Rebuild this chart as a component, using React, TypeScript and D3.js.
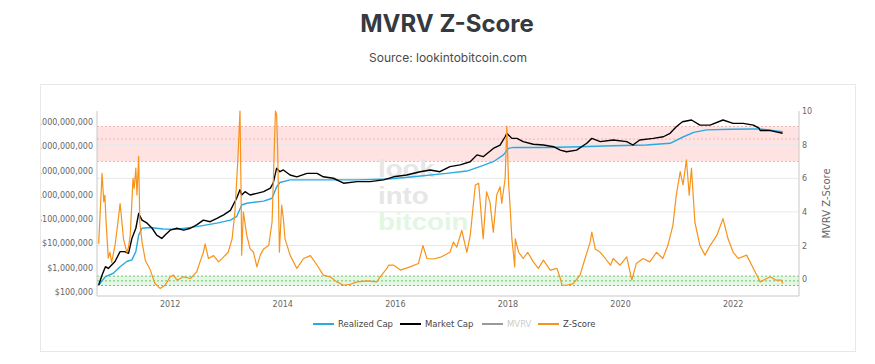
import React from 'react';
import * as d3 from 'd3';

// decimal year, value
const marketCapYears = [2010.73, 2010.79, 2010.85, 2010.9, 2010.96, 2011.02, 2011.11, 2011.19, 2011.26, 2011.32, 2011.39, 2011.44, 2011.5, 2011.59, 2011.68, 2011.76, 2011.85, 2011.91, 2012.0, 2012.12, 2012.24, 2012.36, 2012.47, 2012.59, 2012.71, 2012.83, 2012.95, 2013.07, 2013.18, 2013.24, 2013.27, 2013.33, 2013.42, 2013.54, 2013.66, 2013.78, 2013.83, 2013.89, 2013.95, 2014.01, 2014.13, 2014.25, 2014.43, 2014.61, 2014.72, 2014.9, 2015.08, 2015.32, 2015.55, 2015.79, 2015.97, 2016.2, 2016.44, 2016.62, 2016.79, 2016.97, 2017.15, 2017.33, 2017.45, 2017.56, 2017.74, 2017.86, 2017.95, 2017.98, 2018.07, 2018.16, 2018.27, 2018.45, 2018.63, 2018.81, 2018.93, 2019.04, 2019.22, 2019.4, 2019.49, 2019.64, 2019.87, 2020.11, 2020.22, 2020.34, 2020.58, 2020.76, 2020.88, 2020.99, 2021.1, 2021.26, 2021.41, 2021.59, 2021.82, 2022.0, 2022.18, 2022.36, 2022.46, 2022.48, 2022.66, 2022.88];
const marketCapValues = [1.95e5, 5.0e5, 1.1e6, 9.3e5, 1.3e6, 1.8e6, 4.6e6, 4.6e6, 3.9e6, 1.6e7, 4.2e7, 1.7e8, 9.1e7, 6.8e7, 4.2e7, 2.2e7, 1.6e7, 2.2e7, 3.5e7, 4.2e7, 3.5e7, 4.2e7, 5.8e7, 9.1e7, 7.8e7, 1.07e8, 1.5e8, 2.3e8, 7.2e8, 1.6e9, 9.8e8, 1.35e9, 9.8e8, 1.15e9, 1.35e9, 1.9e9, 3.0e9, 1.23e10, 8.9e9, 1.05e10, 6.5e9, 5.5e9, 7.6e9, 7.6e9, 5.5e9, 4.8e9, 3.0e9, 3.5e9, 3.5e9, 4.1e9, 5.5e9, 6.5e9, 8.9e9, 1.05e10, 8.9e9, 1.45e10, 1.7e10, 2.3e10, 4.4e10, 3.7e10, 8.1e10, 1.12e11, 2.45e11, 3.4e11, 2.1e11, 2.1e11, 1.55e11, 1.2e11, 1.12e11, 9.5e10, 6.9e10, 5.9e10, 6.9e10, 1.32e11, 2.1e11, 1.55e11, 1.8e11, 1.55e11, 1.12e11, 1.8e11, 2.1e11, 2.45e11, 3.4e11, 6.3e11, 1.02e12, 1.2e12, 7.4e11, 7.4e11, 1.2e12, 8.7e11, 8.7e11, 7.4e11, 5.5e11, 4.4e11, 4.4e11, 3.4e11];

const realizedCapYears = [2010.73, 2010.85, 2010.99, 2011.11, 2011.23, 2011.32, 2011.39, 2011.44, 2011.5, 2011.64, 2011.88, 2012.12, 2012.47, 2012.83, 2013.07, 2013.18, 2013.27, 2013.36, 2013.66, 2013.81, 2013.89, 2013.95, 2014.13, 2014.72, 2015.32, 2015.88, 2016.32, 2016.91, 2017.27, 2017.5, 2017.74, 2017.92, 2018.01, 2018.1, 2018.69, 2019.28, 2019.87, 2020.46, 2020.88, 2021.12, 2021.3, 2021.53, 2021.95, 2022.36, 2022.48, 2022.88];
const realizedCapValues = [1.95e5, 4.3e5, 5.9e5, 1.1e6, 1.8e6, 2.1e6, 4.6e6, 2.2e7, 4.2e7, 4.5e7, 3.9e7, 3.8e7, 4.9e7, 6.8e7, 9.1e7, 1.26e8, 3.8e8, 4.5e8, 5.5e8, 7.2e8, 2.1e9, 3.2e9, 4.1e9, 4.1e9, 4.1e9, 4.5e9, 5.5e9, 7.6e9, 9.5e9, 1.45e10, 2.3e10, 4.4e10, 8.1e10, 8.9e10, 8.9e10, 9.5e10, 1.05e11, 1.12e11, 1.32e11, 2.45e11, 3.7e11, 4.7e11, 5.0e11, 5.1e11, 5.1e11, 4.0e11];

const zScoreYears = [2010.73, 2010.79, 2010.82, 2010.84, 2010.86, 2010.9, 2010.93, 2010.96, 2011.02, 2011.08, 2011.11, 2011.14, 2011.17, 2011.23, 2011.26, 2011.29, 2011.34, 2011.36, 2011.39, 2011.41, 2011.44, 2011.46, 2011.5, 2011.56, 2011.64, 2011.73, 2011.82, 2011.91, 2012.0, 2012.06, 2012.12, 2012.24, 2012.36, 2012.47, 2012.53, 2012.59, 2012.62, 2012.68, 2012.77, 2012.86, 2012.95, 2013.03, 2013.1, 2013.15, 2013.2, 2013.24, 2013.26, 2013.27, 2013.3, 2013.36, 2013.42, 2013.48, 2013.54, 2013.6, 2013.66, 2013.75, 2013.81, 2013.87, 2013.89, 2013.91, 2013.94, 2013.98, 2014.01, 2014.04, 2014.13, 2014.25, 2014.37, 2014.49, 2014.61, 2014.72, 2014.84, 2014.96, 2015.08, 2015.2, 2015.32, 2015.5, 2015.67, 2015.73, 2015.85, 2015.88, 2015.97, 2016.09, 2016.26, 2016.41, 2016.49, 2016.56, 2016.68, 2016.82, 2016.97, 2017.03, 2017.09, 2017.18, 2017.27, 2017.33, 2017.42, 2017.48, 2017.54, 2017.56, 2017.62, 2017.68, 2017.74, 2017.8, 2017.86, 2017.89, 2017.95, 2017.98, 2018.01, 2018.04, 2018.07, 2018.1, 2018.12, 2018.13, 2018.19, 2018.27, 2018.35, 2018.45, 2018.54, 2018.63, 2018.75, 2018.87, 2018.93, 2018.96, 2019.04, 2019.16, 2019.28, 2019.37, 2019.46, 2019.49, 2019.55, 2019.64, 2019.73, 2019.82, 2019.87, 2019.99, 2020.11, 2020.2, 2020.28, 2020.4, 2020.52, 2020.64, 2020.75, 2020.84, 2020.93, 2020.99, 2021.06, 2021.11, 2021.17, 2021.22, 2021.26, 2021.32, 2021.41, 2021.5, 2021.59, 2021.71, 2021.82, 2021.91, 2022.0, 2022.09, 2022.24, 2022.36, 2022.45, 2022.48, 2022.66, 2022.76, 2022.86, 2022.88];
const zScoreValues = [2.1, 6.3, 4.6, 5.0, 3.5, 1.25, 1.6, 1.0, 2.0, 3.6, 4.5, 3.5, 2.4, 1.6, 1.9, 2.6, 6.0, 5.4, 6.6, 5.0, 7.3, 3.4, 2.2, 1.1, 0.6, -0.26, -0.55, -0.36, 0.14, 0.24, -0.06, 0.14, 0.04, 0.43, 1.03, 1.6, 2.1, 1.23, 1.4, 1.03, 1.33, 1.6, 2.4, 4.0, 7.0, 10.0, 5.0, 1.43, 4.0, 2.6, 1.8, 1.6, 0.73, 1.43, 1.8, 2.0, 3.4, 10.0, 9.8, 7.6, 1.6, 4.4, 3.6, 2.4, 1.43, 0.64, 1.23, 1.4, 0.83, 0.24, 0.14, -0.16, -0.36, -0.3, -0.16, -0.1, -0.16, 0.14, 0.64, 0.83, 0.83, 0.54, 0.73, 0.93, 2.0, 1.23, 1.2, 1.33, 1.6, 2.2, 1.9, 2.9, 1.6, 2.6, 5.6, 5.7, 3.2, 2.4, 5.2, 4.6, 2.8, 5.0, 5.5, 4.5, 6.0, 9.1, 5.8, 4.2, 2.4, 1.43, 0.73, 2.4, 1.6, 1.23, 1.6, 1.03, 0.64, 1.13, 0.54, 0.64, 0.04, -0.36, -0.36, -0.26, 0.24, 1.23, 2.2, 2.8, 1.8, 1.6, 1.23, 0.83, 1.23, 0.83, 1.33, -0.06, 0.93, 1.23, 1.03, 1.6, 1.23, 2.0, 3.2, 5.0, 6.4, 5.6, 7.1, 5.0, 6.6, 3.4, 2.0, 1.43, 2.0, 2.6, 3.6, 2.4, 1.6, 1.23, 1.43, 0.64, 0.04, -0.16, 0.14, -0.06, -0.06, -0.26];

const yearTicks = [2012, 2014, 2016, 2018, 2020, 2022];
const capTicks = [1e5, 1e6, 1e7, 1e8, 1e9, 1e10, 1e11, 1e12];
const zTicks = [0, 2, 4, 6, 8, 10];
const redBand = [7.0, 8.33, 9.08];
const greenBand = [-0.375, -0.1, 0.18];
const watermarkWords = ['look', 'into', 'bitcoin'];

const legendItems = [
  { label: 'Realized Cap', color: '#29aae2', x: 313, muted: false },
  { label: 'Market Cap', color: '#000000', x: 400, muted: false },
  { label: 'MVRV', color: '#999999', x: 482, muted: true },
  { label: 'Z-Score', color: '#f7931a', x: 538, muted: false },
];

const W = 875;
const H = 364;
const plot = { left: 97, right: 799, top: 111, bottom: 296 };
const tickFont = '"DejaVu Sans", Verdana, sans-serif';

const App = () => {
  const x = d3.scaleLinear().domain([2010.7, 2023.17]).range([plot.left, plot.right]);
  const yCap = d3.scaleLog().domain([10 ** 4.835, 10 ** 12.449]).range([plot.bottom, plot.top]);
  const yZ = d3.scaleLinear().domain([-1, 10]).range([plot.bottom, plot.top]);

  const capLine = d3.line<number[]>().x(d => x(d[0])).y(d => yCap(d[1]));
  const zLine = d3.line<number[]>().x(d => x(d[0])).y(d => yZ(d[1]));

  const market = marketCapYears.map((t, i) => [t, marketCapValues[i]]);
  const realized = realizedCapYears.map((t, i) => [t, realizedCapValues[i]]);
  const zscore = zScoreYears.map((t, i) => [t, zScoreValues[i]]);

  const fmt = d3.format('$,.0f');

  return (
    <svg width={W} height={H} style={{ position: 'absolute', left: 0, top: 0, background: '#fff' }}>
      <defs>
        <clipPath id="plotClip">
          <rect x={plot.left} y={plot.top - 1} width={plot.right - plot.left} height={plot.bottom - plot.top + 1} />
        </clipPath>
        <clipPath id="cardClip">
          <rect x={41} y={84} width={814} height={268} />
        </clipPath>
      </defs>

      <text x={447} y={32} textAnchor="middle" fontFamily="Inter, sans-serif" fontWeight={700} fontSize={24} fill="#343a40">
        MVRV Z-Score
      </text>
      <text x={448} y={62} textAnchor="middle" fontFamily="Inter, sans-serif" fontSize={12} fill="#4a4a4a">
        Source: lookintobitcoin.com
      </text>

      <rect x={40.5} y={84.5} width={815} height={267} fill="#fff" stroke="#e8e8e8" />

      {/* bands */}
      <rect x={plot.left} y={yZ(redBand[2])} width={plot.right - plot.left} height={yZ(redBand[0]) - yZ(redBand[2])} fill="#ffe3e3" />
      <rect x={plot.left} y={yZ(greenBand[2])} width={plot.right - plot.left} height={yZ(greenBand[0]) - yZ(greenBand[2])} fill="#e4f6e4" />

      {/* grid */}
      {zTicks.filter(v => v > 0 && v < 10).map(v => (
        <line key={v} x1={plot.left} x2={plot.right} y1={yZ(v)} y2={yZ(v)} stroke="#e8e8e8" />
      ))}

      {redBand.map(v => (
        <line key={'r' + v} x1={plot.left} x2={plot.right} y1={yZ(v)} y2={yZ(v)} stroke="#f3b3b3" strokeDasharray="2,2" />
      ))}
      {greenBand.map(v => (
        <line key={'g' + v} x1={plot.left} x2={plot.right} y1={yZ(v)} y2={yZ(v)} stroke="#6cc46c" strokeDasharray="2,2" />
      ))}

      {/* watermark, squeezed vertically so the stacked words don't collide */}
      <g fontFamily='"Liberation Sans", Arial, sans-serif' fontWeight={700} fontSize={23}>
        {watermarkWords.map((w, i) => (
          <text
            key={w}
            transform={`translate(378,${177 + i * 26.5}) scale(1.2,1)`}
            fill={i === 2 ? '#e2f6e2' : '#e6e6e6'}
          >
            {w}
          </text>
        ))}
      </g>

      <g clipPath="url(#plotClip)" fill="none" strokeLinejoin="round">
        <path d={capLine(realized) || ''} stroke="#29aae2" strokeWidth={1.4} />
        <path d={capLine(market) || ''} stroke="#000" strokeWidth={1.4} />
        <path d={zLine(zscore) || ''} stroke="#f7931a" strokeWidth={1.2} />
      </g>

      {/* axes */}
      <line x1={plot.left} x2={plot.left} y1={plot.top} y2={plot.bottom} stroke="#c8c8c8" />
      <line x1={plot.right} x2={plot.right} y1={plot.top} y2={plot.bottom} stroke="#c8c8c8" />
      <line x1={plot.left} x2={plot.right} y1={plot.bottom} y2={plot.bottom} stroke="#c8c8c8" />

      <g clipPath="url(#cardClip)" fontFamily={tickFont} fontSize={8} fill="#666">
        {capTicks.map(v => (
          <text key={v} x={93} y={yCap(v) + 3} textAnchor="end">{fmt(v)}</text>
        ))}
      </g>

      <g fontFamily={tickFont} fontSize={8} fill="#666">
        {zTicks.map(v => (
          <text key={v} x={802} y={yZ(v) + 3}>{v}</text>
        ))}
        {yearTicks.map(v => (
          <text key={v} x={x(v)} y={307} textAnchor="middle">{v}</text>
        ))}
      </g>

      <text
        transform={`translate(830,${(plot.top + plot.bottom) / 2}) rotate(-90)`}
        textAnchor="middle"
        fontFamily={tickFont}
        fontSize={10}
        fill="#666"
      >
        MVRV Z-Score
      </text>

      {/* legend */}
      <g fontFamily={tickFont} fontSize={8.5}>
        {legendItems.map(d => (
          <g key={d.label}>
            <line x1={d.x} x2={d.x + 21} y1={324} y2={324} stroke={d.color} strokeWidth={2} />
            <text x={d.x + 25} y={327} fill={d.muted ? '#cccccc' : '#444'}>{d.label}</text>
          </g>
        ))}
      </g>
    </svg>
  );
};

export default App;
